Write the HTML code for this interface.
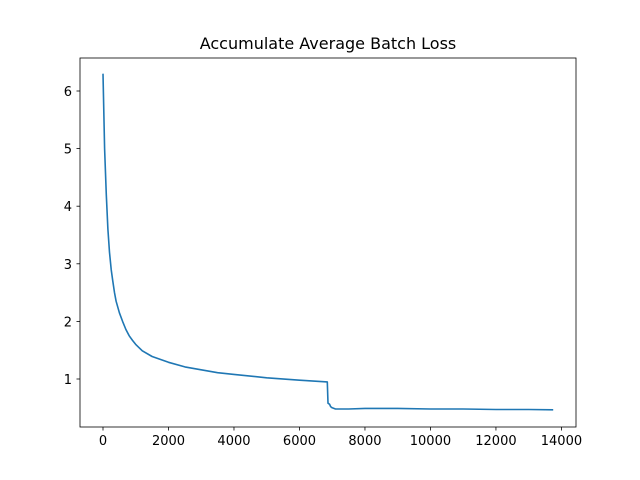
<!DOCTYPE html>
<html><head><meta charset="utf-8"><style>
body{margin:0;background:#fff}
svg{display:block;font-family:"DejaVu Sans","Liberation Sans",sans-serif}
</style></head><body>
<svg id="chart" width="640" height="480">
<rect x="0" y="0" width="640" height="480" fill="#fff"/>
<text x="328" y="49" text-anchor="middle" font-size="16" fill="#000">Accumulate Average Batch Loss</text>
<g id="ticks"></g>
<path id="line" fill="none" stroke="#1f77b4" stroke-width="1.6" stroke-linejoin="round"/>
<rect x="80" y="58" width="496" height="369" fill="none" stroke="#000" stroke-width="0.8"/>
</svg>
<script>
const steps=[0,50,100,150,200,250,300,350,400,500,600,700,800,900,1000,1200,1500,2000,2500,3000,3500,4000,5000,6000,6850,6870,6920,6950,7000,7100,7500,8000,9000,10000,11000,12000,13000,13750];
const losses=[6.3,5.0,4.2,3.6,3.2,2.9,2.7,2.5,2.35,2.15,2.0,1.86,1.75,1.67,1.6,1.49,1.39,1.29,1.21,1.16,1.11,1.08,1.02,0.98,0.95,0.58,0.56,0.52,0.5,0.48,0.48,0.49,0.49,0.48,0.48,0.47,0.47,0.465];
const xTicks=[0,2000,4000,6000,8000,10000,12000,14000];
const yTicks=[1,2,3,4,5,6];
const sx=v=>103+v*0.032745;
const sy=v=>436.6-v*57.6;
const NS="http://www.w3.org/2000/svg";
const g=document.getElementById('ticks');
xTicks.forEach(t=>{
 const l=document.createElementNS(NS,'line');
 l.setAttribute('x1',sx(t));l.setAttribute('x2',sx(t));l.setAttribute('y1',427);l.setAttribute('y2',430.5);l.setAttribute('stroke','#000');l.setAttribute('stroke-width','0.8');
 
 
 g.appendChild(l);
 const tx=document.createElementNS(NS,'text');
 tx.setAttribute('x',sx(t));tx.setAttribute('y',445);tx.setAttribute('text-anchor','middle');tx.setAttribute('font-size','13');
 tx.textContent=t;
 
 
 g.appendChild(tx);
});
yTicks.forEach(t=>{
 const l=document.createElementNS(NS,'line');
 l.setAttribute('x1',76.5);l.setAttribute('x2',80);l.setAttribute('y1',sy(t));l.setAttribute('y2',sy(t));l.setAttribute('stroke','#000');l.setAttribute('stroke-width','0.8');
 
 
 g.appendChild(l);
 const tx=document.createElementNS(NS,'text');
 tx.setAttribute('x',72);tx.setAttribute('y',sy(t)+5);tx.setAttribute('text-anchor','end');tx.setAttribute('font-size','13');
 tx.textContent=t;
 
 
 g.appendChild(tx);
});
document.getElementById('line').setAttribute('d',steps.map((s,i)=>(i?'L':'M')+sx(s).toFixed(1)+','+sy(losses[i]).toFixed(1)).join(''));
</script>
</body></html>
